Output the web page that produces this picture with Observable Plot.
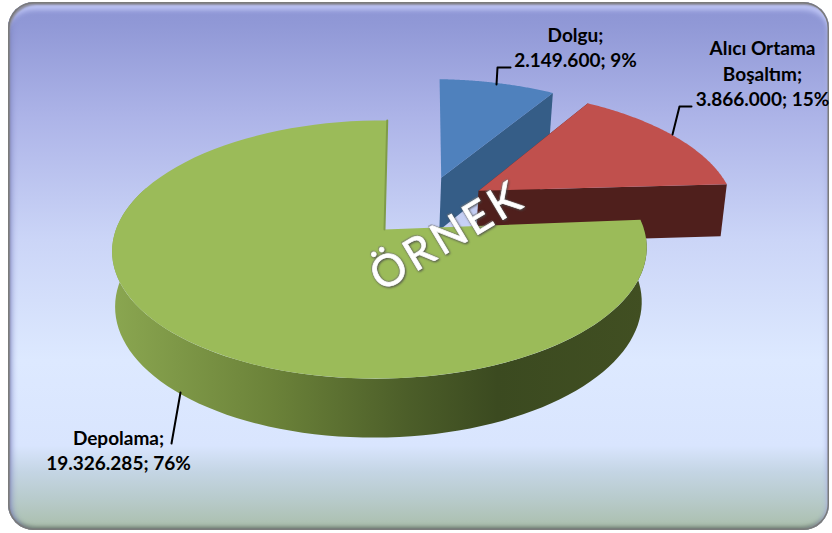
<!DOCTYPE html>
<html><head><meta charset="utf-8">
<script src="https://cdn.jsdelivr.net/npm/d3@7"></script>
<script src="https://cdn.jsdelivr.net/npm/@observablehq/plot@0.6"></script>
<style>
html,body{margin:0;padding:0;background:#fff;}
#wrap{position:relative;width:832px;height:533px;overflow:hidden;}
#frame{position:absolute;left:8px;top:2px;width:821px;height:528px;border-radius:26px;box-sizing:border-box;
 background:linear-gradient(180deg,#8d95d4 0,#9098d6 4%,#adb4e8 22%,#cbd5f7 45%,#dde9ff 68%,#d9e5fe 84%,#c4d5e4 89%,#b8cbcc 94%,#acc0b0 99%);
 box-shadow:inset 0 0 0 1.5px #7b7b7b,inset 2px 3px 2px #8a8a9a,inset 0 11px 5px -3px #bcc3f4,inset 9px 0 6px -6px #7d85c2,inset -5px 0 5px -3px #a9b0e0,inset 0 -5px 4px -2px #66736a;}
svg{position:absolute;left:0;top:0;background:transparent;}
</style></head><body><div id="wrap"><div id="frame"></div></div>
<script>
const categories = ["Dolgu", "Alıcı Ortama\nBoşaltım", "Depolama"];
const values = [2149600, 3866000, 19326285];
const percents = [9, 15, 76];
const colors = ["#4f81bd", "#c0504d", "#9bbb59"];
const wallColors = ["#355d87", "#4f1f1c", "url(#greenWall)"];
const explodeDir = [27.1, 48.9, 0];   // degrees
const explodeBy = [0.494, 0.495, 0];
const sliceScale = [1.03, 1.03, 1];
const sliceTurn = [0.8, 1, 0];        // degrees

const W = 832, H = 533;
const cx = 384, cy = 229, ax = 264, ay = 126;       // pixel placement of the pie, encoded in scale domains
const pY = 0.155, qX = 0.017, skew = 0.012, depth = 0.43, shrink = 0.015, N = 90;
const rad = d => d * Math.PI / 180;
const project = (X, Y, drop = 0) => {
  const w = 1 + pY * Y + qX * X;
  const Q = Y / w;
  const u = X / w + skew * Q;
  return drop ? {u: u * (1 - shrink) - 0.004, v: Q - drop / Math.sqrt(w)} : {u, v: Q};
};
const fmt = d3.formatLocale({decimal: ",", thousands: ".", grouping: [3], currency: ["", ""]}).format(",d");
const total = d3.sum(values);
let acc = 0;
const slices = values.map((v, i) => {
  const a0 = acc / total * 360 + sliceTurn[i]; acc += v; const a1 = acc / total * 360 + sliceTurn[i];
  return {i, a0, a1, r: sliceScale[i], ox: explodeBy[i] * Math.sin(rad(explodeDir[i])), oy: explodeBy[i] * Math.cos(rad(explodeDir[i]))};
});
const rim = (s, a, drop = 0) => project(s.ox + s.r * Math.sin(rad(a)), s.oy + s.r * Math.cos(rad(a)), drop);
const apex = (s, drop = 0) => project(s.ox, s.oy, drop);
const arc = (s, a, b, drop = 0) => d3.range(N + 1).map(k => rim(s, a + (b - a) * k / N, drop));

const ux = p => (p - cx) / ax, uy = p => (cy - p) / ay;

const topFace = s => [apex(s), ...arc(s, s.a0, s.a1)];
const cutWall = (s, a) => [apex(s), rim(s, a), rim(s, a, depth), apex(s, depth)];
const rimWall = (s, a, b) => [...arc(s, a, b), ...arc(s, b, a, depth)];

const [blue, red, green] = slices;
const layers = [
  {pts: cutWall(blue, blue.a1), fill: wallColors[0]},
  {pts: topFace(blue), fill: colors[0]},
  {pts: cutWall(red, red.a0), fill: wallColors[1]},
  {pts: cutWall(red, red.a1), fill: wallColors[1]},
  {pts: topFace(red), fill: colors[1]},
  {pts: rimWall(green, green.a0, 290), fill: wallColors[2]},
  {pts: topFace(green), fill: colors[2]}
];

const leaders = [
  [[496, 84], [497, 67], [510, 67]],
  [[672, 134], [679, 106], [691, 106]],
  [[180, 392], [171, 443]]
];
const labelAt = [[575, 46], [762, 72], [118, 449]];
const labels = categories.map((c, i) => ({
  text: `${c};\n${fmt(values[i])}; ${percents[i]}%`, x: ux(labelAt[i][0]), y: uy(labelAt[i][1])
}));

const plainMarks = layers.map(l => Plot.line(l.pts, {x: "u", y: "v", fill: l.fill, stroke: "none", curve: "linear"}));
const chart = Plot.plot({
  width: W, height: H, margin: 0,
  x: {domain: [ux(0), ux(W)], range: [0, W], axis: null},
  y: {domain: [uy(H), uy(0)], range: [H, 0], axis: null},
  marks: [
    ...plainMarks,
    Plot.line([apex(green), rim(green, 360)], {x: "u", y: "v", stroke: "#7f9c48", strokeWidth: 2}),
    ...leaders.map(l => Plot.line(l.map(p => ({u: ux(p[0]), v: uy(p[1])})), {x: "u", y: "v", stroke: "#000", strokeWidth: 2, curve: "linear"})),
    Plot.text(labels, {x: "x", y: "y", text: "text", fontFamily: "Lato", fontWeight: 700, fontSize: 19, lineHeight: 1.34, fill: "#000", textAnchor: "middle"}),
    Plot.text(["ÖRNEK"], {x: ux(447), y: uy(236), text: d => d, rotate: -31, fontFamily: "Lato", fontWeight: 400, fontSize: 44, fill: "#fff", stroke: "#efefef", strokeWidth: 0.8, imageFilter: "drop-shadow(1px 1.5px 1px rgba(70,70,70,.85)) drop-shadow(-.5px -.5px .6px rgba(120,120,120,.5))"})
  ]
});
chart.insertAdjacentHTML("afterbegin", `<defs><linearGradient id="greenWall" gradientUnits="userSpaceOnUse" x1="113" x2="646" y1="0" y2="0">
<stop offset="0" stop-color="#8aa650"/><stop offset=".3" stop-color="#6b8239"/><stop offset=".55" stop-color="#4c5e29"/><stop offset=".72" stop-color="#3b4a20"/><stop offset="1" stop-color="#414f22"/></linearGradient></defs>`);
d3.select(chart).selectAll("text").filter(function () { return this.textContent === "ÖRNEK"; }).style("letter-spacing", "4px");
document.getElementById("wrap").appendChild(chart);
</script></body></html>
